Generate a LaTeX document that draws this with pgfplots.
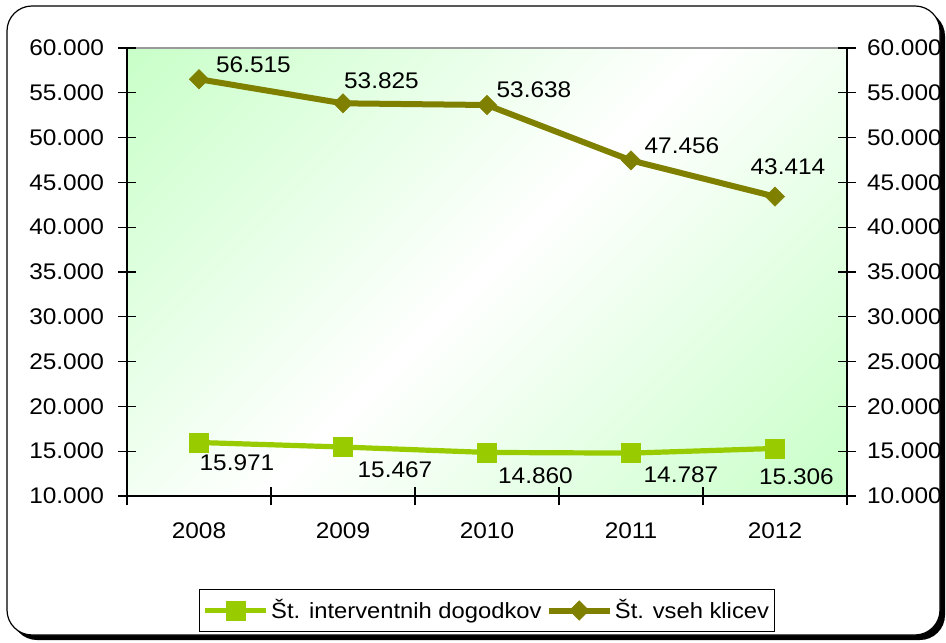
\documentclass[border=0pt]{standalone}
\usepackage{pgfplots}
\pgfplotsset{compat=1.18}
\usepackage{fontspec}
\setmainfont{Liberation Sans}[FakeStretch=1.08]
\definecolor{lgreen}{RGB}{153,204,0}
\definecolor{oliv}{RGB}{128,128,0}
\definecolor{bgg}{RGB}{200,255,200}
\pgfdeclarehorizontalshading{bgdiag}{100bp}{color(0bp)=(bgg); color(14.6bp)=(bgg); color(50bp)=(white); color(85.4bp)=(bgg); color(100bp)=(bgg)}

\pgfplotstableread{
x y dx dy
0 15971 19 -10.25
1 15467 26 -11.5
2 14860 24.25 -11.5
3 14787 25 -11
4 15306 10.75 -14
}\interv

\pgfplotstableread{
x y dx dy
0 56515 27.25 7.25
1 53825 19.25 11.5
2 53638 23.5 7.5
3 47456 25.5 7.5
4 43414 6.5 14.75
}\klici

\tikzset{numfmt/.style={/pgf/number format/fixed, /pgf/number format/1000 sep={.}, /pgf/number format/assume math mode=true}}
\pgfplotsset{
  common/.style={
    at={(0,0)}, anchor=south west,
    width=360pt, height=224pt, scale only axis,
    xmin=-0.5, xmax=4.5, ymin=10000, ymax=60000,
    ytick={10000,15000,...,60000},
    scaled y ticks=false,
    tick align=center, major tick length=9pt,
    tick style={black, line width=0.6pt},
    axis line style={black, line width=0.6pt},
    yticklabel style={numfmt},
  },
}

\begin{document}
\begin{tikzpicture}[font=\fontsize{11.3}{13.5}\selectfont]
\useasboundingbox (-63.5pt,-73pt) rectangle (409.5pt,248pt);
\fill[black, rounded corners=12.5pt] (-57.5pt,-72pt) rectangle (409pt,242.5pt);
\draw[black, line width=0.6pt, fill=white, rounded corners=12.5pt] (-60pt,-69.5pt) rectangle (406.5pt,245pt);

\begin{axis}[common,
  axis x line*=bottom, axis y line*=left,
  axis background/.style={shade, shading=bgdiag, shading angle=-45, draw=gray!80, line width=0.6pt},
  xtick={-0.5,0.5,1.5,2.5,3.5,4.5},
  x tick label as interval,
  xticklabels={2008,2009,2010,2011,2012},
  xticklabel style={yshift=-5.5pt},
  yticklabel style={xshift=-3.5pt},
  clip=false,
  legend style={at={(0.5,-0.2556)}, anchor=center, draw=black, fill=white,
    line width=0.6pt, inner xsep=1.5pt, inner ysep=3pt,
    font=\fontsize{11}{13.5}\selectfont,
    nodes={inner xsep=1.1pt},
    /tikz/every even column/.append style={column sep=1pt}},
  legend columns=2,
  legend cell align=left,
  legend image code/.code={\draw[mark repeat=2, mark phase=2, #1] plot coordinates {(0pt,0pt) (15.25pt,0pt) (30.5pt,0pt)};},
  nodes near coords,
  visualization depends on={\thisrow{dx} \as \dx},
  visualization depends on={\thisrow{dy} \as \dy},
  every node near coord/.append style={anchor=center, inner sep=0pt, text=black, xshift=\dx pt, yshift=\dy pt, numfmt},
]
\addplot[lgreen, line width=2.6pt, mark=square*, mark size=4.8pt, mark options={solid, line width=0.3pt}] table[x=x, y=y] {\interv};
\addlegendentry{Št. interventnih dogodkov}
\addplot[oliv, line width=3pt, mark=square*, mark size=3.4pt, mark options={solid, rotate=45, line width=0.3pt}] table[x=x, y=y] {\klici};
\addlegendentry{Št. vseh klicev}
\end{axis}

\begin{axis}[common,
  axis x line=none, axis y line*=right,
  yticklabel style={xshift=2pt},
]
\addplot[draw=none] coordinates {(0,10000)};
\end{axis}
\end{tikzpicture}
\end{document}
